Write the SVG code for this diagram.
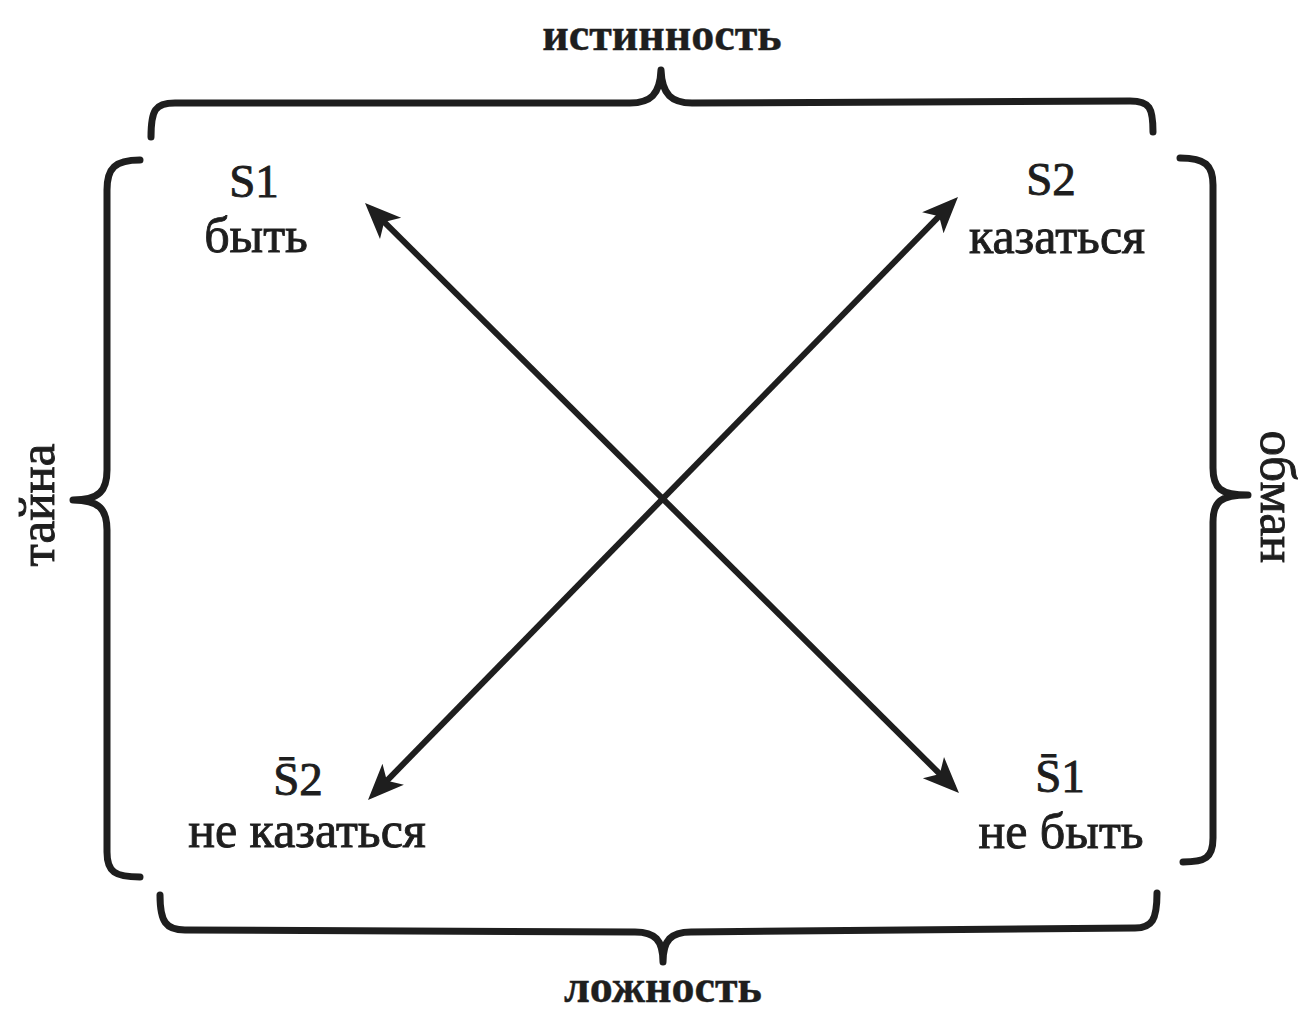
<svg xmlns="http://www.w3.org/2000/svg" width="1307" height="1013" viewBox="0 0 1307 1013">
<style>
text{font-family:"Liberation Serif","DejaVu Serif",serif;fill:#1e1e1e;stroke:#1e1e1e;stroke-width:0.9;}
.sym{font-size:47px;text-anchor:middle;}
.lbl{font-size:50px;text-anchor:middle;}
.side{font-size:51px;text-anchor:middle;}
.bold{font-size:46px;font-weight:bold;text-anchor:middle;stroke-width:0.4;}
.brace{fill:none;stroke:#1e1e1e;stroke-width:7;stroke-linecap:round;stroke-linejoin:round;}
.arrow{fill:none;stroke:#1e1e1e;stroke-width:6;marker-start:url(#ah);marker-end:url(#ah);}
</style>
<defs>
<marker id="ah" markerUnits="userSpaceOnUse" orient="auto-start-reverse" refX="0" refY="0" markerWidth="70" markerHeight="70" viewBox="-35 -35 70 70" overflow="visible">
<path d="M8,0 L-28,-15 L-19,0 L-28,15 Z" fill="#1e1e1e"/>
</marker>
</defs>
<rect width="1307" height="1013" fill="#ffffff"/>
<g id="brace-top">
<path class="brace" d="M151,137 C151,110 155,103 175,103 L630,103 C650,103 660,95 661,70 C662,95 672,103 692,103 L1130,101 C1150,101 1153,108 1153,132"/>
<text class="bold" x="662" y="50">истинность</text>
</g>
<g id="brace-bottom">
<path class="brace" d="M160,895 C160,922 166,930 185,930 L635,932 C655,932 663,940 663,962 C663,940 671,932 691,932 L1135,928 C1152,928 1157,920 1157,893"/>
<text class="bold" x="663" y="1002">ложность</text>
</g>
<g id="brace-left">
<path class="brace" d="M140,160 C115,160 107,168 107,190 L107,470 C107,490 100,500 73,500 C100,500 107,510 107,530 L107,852 C107,872 115,877 140,877"/>
<text class="side" transform="translate(54,505) rotate(-90)">тайна</text>
</g>
<g id="brace-right">
<path class="brace" d="M1180,158 C1205,158 1213,165 1213,185 L1213,468 C1213,488 1220,495 1248,495 C1220,495 1213,502 1213,522 L1213,838 C1213,858 1205,862 1183,862"/>
<text class="side" transform="translate(1261,497) rotate(90)">обман</text>
</g>
<g id="node-s1">
<text class="sym" x="254" y="197">S1</text>
<text class="lbl" x="256" y="252">быть</text>
</g>
<g id="node-s2">
<text class="sym" x="1051" y="195">S2</text>
<text class="lbl" x="1057" y="253">казаться</text>
</g>
<g id="node-not-s2">
<text class="sym" x="298" y="795">S&#x0304;2</text>
<text class="lbl" x="307" y="847">не казаться</text>
</g>
<g id="node-not-s1">
<text class="sym" x="1060" y="792">S&#x0304;1</text>
<text class="lbl" x="1061" y="848">не быть</text>
</g>
<g id="connectors">
<line class="arrow" x1="370.7" y1="208.6" x2="953.3" y2="787.4"/>
<line class="arrow" x1="952.4" y1="202.7" x2="373.6" y2="794.3"/>
</g>
</svg>
